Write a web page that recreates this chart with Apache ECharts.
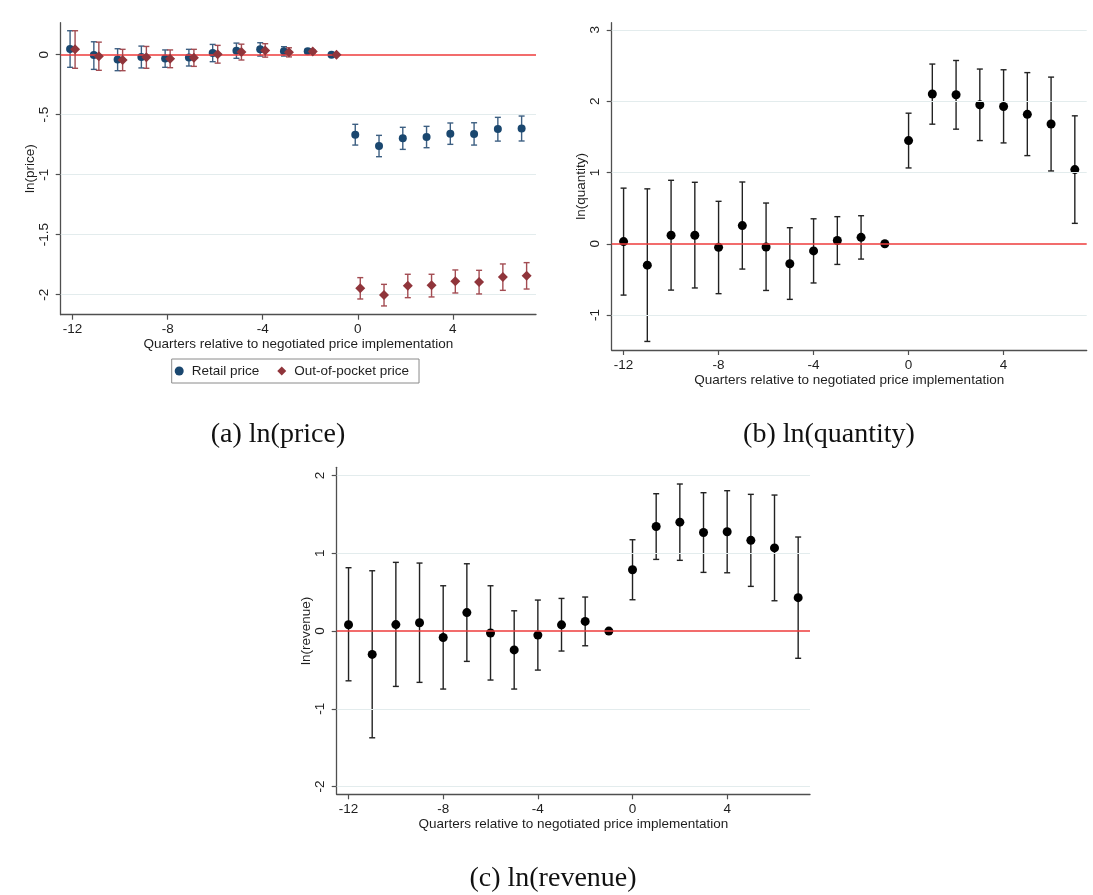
<!DOCTYPE html>
<html>
<head>
<meta charset="utf-8">
<script src="https://cdn.jsdelivr.net/npm/echarts@6/dist/echarts.min.js"></script>
<style>
  html, body { margin: 0; padding: 0; background: #ffffff; }
  #main { width: 1093px; height: 895px; }
</style>
</head>
<body>
<div id="main"></div>
<script>
// Event-study coefficients by quarter relative to the negotiated price (quarter -1 is the reference)
const quarters = [-12, -11, -10, -9, -8, -7, -6, -5, -4, -3, -2, -1, 0, 1, 2, 3, 4, 5, 6, 7];

// (a) ln(price): retail price
const retailEst = [0.047, -0.003, -0.040, -0.018, -0.032, -0.024, 0.014, 0.033, 0.045, 0.028, 0.030, 0,
                   -0.667, -0.761, -0.697, -0.686, -0.658, -0.660, -0.620, -0.615];
const retailLo  = [-0.105, -0.122, -0.133, -0.110, -0.105, -0.094, -0.058, -0.030, -0.011, -0.011, 0.012, null,
                   -0.753, -0.850, -0.789, -0.775, -0.747, -0.753, -0.720, -0.719];
const retailHi  = [0.200, 0.108, 0.050, 0.072, 0.040, 0.045, 0.086, 0.097, 0.100, 0.067, 0.048, null,
                   -0.580, -0.672, -0.605, -0.597, -0.569, -0.567, -0.522, -0.511];

// (a) ln(price): out-of-pocket price
const oopEst = [0.045, -0.012, -0.044, -0.022, -0.034, -0.026, 0.004, 0.022, 0.036, 0.020, 0.026, 0,
                -1.947, -2.003, -1.925, -1.922, -1.889, -1.894, -1.853, -1.842];
const oopLo  = [-0.113, -0.130, -0.133, -0.113, -0.108, -0.097, -0.070, -0.044, -0.020, -0.018, 0.012, null,
                -2.036, -2.094, -2.025, -2.019, -1.986, -1.994, -1.964, -1.953];
const oopHi  = [0.200, 0.105, 0.045, 0.069, 0.040, 0.045, 0.078, 0.088, 0.092, 0.058, 0.040, null,
                -1.858, -1.914, -1.830, -1.830, -1.794, -1.797, -1.744, -1.733];

// (b) ln(quantity)
const qtyEst = [0.030, -0.300, 0.120, 0.120, -0.050, 0.255, -0.045, -0.280, -0.100, 0.045, 0.090, 0,
                1.447, 2.100, 2.090, 1.950, 1.925, 1.815, 1.680, 1.040];
const qtyLo  = [-0.720, -1.370, -0.650, -0.620, -0.700, -0.355, -0.655, -0.780, -0.550, -0.290, -0.215, null,
                1.063, 1.677, 1.607, 1.447, 1.414, 1.236, 1.021, 0.286];
const qtyHi  = [0.780, 0.770, 0.890, 0.862, 0.595, 0.866, 0.571, 0.225, 0.350, 0.380, 0.393, null,
                1.831, 2.520, 2.570, 2.450, 2.440, 2.400, 2.337, 1.794];

// (c) ln(revenue)
const revEst = [0.081, -0.300, 0.083, 0.107, -0.082, 0.238, -0.025, -0.242, -0.052, 0.080, 0.124, 0,
                0.789, 1.345, 1.401, 1.268, 1.278, 1.167, 1.070, 0.430];
const revLo  = [-0.640, -1.373, -0.712, -0.660, -0.746, -0.390, -0.630, -0.746, -0.502, -0.257, -0.189, null,
                0.403, 0.922, 0.910, 0.755, 0.750, 0.575, 0.390, -0.350];
const revHi  = [0.815, 0.776, 0.884, 0.875, 0.583, 0.866, 0.583, 0.261, 0.399, 0.420, 0.438, null,
                1.175, 1.767, 1.892, 1.780, 1.806, 1.759, 1.750, 1.210];

// Tick values and their printed labels
const xTicks = [-12, -8, -4, 0, 4];
const priceTicks = [0, -0.5, -1, -1.5, -2];
const priceTickLabels = ['0', '-.5', '-1', '-1.5', '-2'];
const qtyTicks = [3, 2, 1, 0, -1];
const qtyTickLabels = ['3', '2', '1', '0', '-1'];
const revTicks = [2, 1, 0, -1, -2];
const revTickLabels = ['2', '1', '0', '-1', '-2'];

const xTitle = 'Quarters relative to negotiated price implementation';
const captions = ['(a) ln(price)', '(b) ln(quantity)', '(c) ln(revenue)'];
const legendNames = ['Retail price', 'Out-of-pocket price'];

// ---------------------------------------------------------------------------
const SANS = '"Liberation Sans", Arial, Helvetica, sans-serif';
const SERIF = '"Liberation Serif", "Times New Roman", serif';
const AXIS_COLOR = '#4f4f4f';
const TEXT_COLOR = '#1e1e1e';
const GRID_COLOR = '#e3eced';
const ZERO_COLOR = '#ee3b3b';
const NAVY = '#1a476f';
const MAROON = '#90353b';

const points = (est) => quarters.map((q, i) => [q, est[i]]);
const intervals = (lo, hi) => quarters
  .map((q, i) => [q, lo[i], hi[i]])
  .filter(d => d[1] !== null && d[2] !== null);

function xAxisFor(gridIndex) {
  return {
    gridIndex, type: 'value', min: -12.5, max: 7.5,
    axisLine: { show: true, onZero: false, lineStyle: { color: AXIS_COLOR, width: 1.3 } },
    axisTick: { show: true, length: 5, customValues: xTicks, lineStyle: { color: AXIS_COLOR, width: 1.2 } },
    axisLabel: { customValues: xTicks, margin: 8, fontSize: 13.5, color: TEXT_COLOR, fontFamily: SANS },
    splitLine: { show: false },
    name: xTitle, nameLocation: 'middle', nameGap: 23,
    nameTextStyle: { fontSize: 13.5, color: TEXT_COLOR, fontFamily: SANS }
  };
}

function yAxisFor(gridIndex, min, max, ticks, labels, title) {
  return {
    gridIndex, type: 'value', min, max,
    axisLine: { show: true, onZero: false, lineStyle: { color: AXIS_COLOR, width: 1.3 } },
    axisTick: { show: true, length: 5, customValues: ticks, lineStyle: { color: AXIS_COLOR, width: 1.2 } },
    axisLabel: {
      customValues: ticks, rotate: 90, margin: 9, fontSize: 13.5, color: TEXT_COLOR, fontFamily: SANS,
      formatter: (v) => {
        const k = ticks.findIndex(t => Math.abs(t - v) < 1e-9);
        return k >= 0 ? labels[k] : '';
      }
    },
    splitLine: { show: false },
    name: title, nameLocation: 'middle', nameGap: 23, nameRotate: 90,
    nameTextStyle: { fontSize: 13.5, color: TEXT_COLOR, fontFamily: SANS }
  };
}

// Horizontal grid lines plus the red reference line at zero
function backgroundSeries(axisIndex, ticks) {
  return [{
    type: 'line', xAxisIndex: axisIndex, yAxisIndex: axisIndex, data: [], z: 1, silent: true,
    markLine: {
      silent: true, symbol: 'none', animation: false, label: { show: false },
      lineStyle: { color: GRID_COLOR, width: 1.1, type: 'solid' },
      data: ticks.filter(t => t !== 0).map(t => ({ yAxis: t }))
    }
  }, {
    type: 'line', xAxisIndex: axisIndex, yAxisIndex: axisIndex, data: [], z: 2, silent: true,
    markLine: {
      silent: true, symbol: 'none', animation: false, label: { show: false },
      lineStyle: { color: ZERO_COLOR, width: 1.6, type: 'solid' },
      data: [{ yAxis: 0 }]
    }
  }];
}

// Capped vertical confidence interval, optionally nudged sideways by dx pixels
function errorBars(axisIndex, data, color, dx, z) {
  return {
    type: 'custom', xAxisIndex: axisIndex, yAxisIndex: axisIndex, z, silent: true,
    encode: { x: 0, y: [1, 2] },
    data,
    renderItem: (params, api) => {
      const q = api.value(0);
      const pLo = api.coord([q, api.value(1)]);
      const pHi = api.coord([q, api.value(2)]);
      const cx = pLo[0] + dx;
      const hw = 3;
      const style = { stroke: color, lineWidth: 1.4 };
      return {
        type: 'group',
        children: [
          { type: 'line', shape: { x1: cx, y1: pHi[1], x2: cx, y2: pLo[1] }, style },
          { type: 'line', shape: { x1: cx - hw, y1: pHi[1], x2: cx + hw, y2: pHi[1] }, style },
          { type: 'line', shape: { x1: cx - hw, y1: pLo[1], x2: cx + hw, y2: pLo[1] }, style }
        ]
      };
    }
  };
}

function markers(axisIndex, name, data, symbol, size, color, dx, z) {
  return {
    type: 'scatter', name, xAxisIndex: axisIndex, yAxisIndex: axisIndex, z,
    data, symbol, symbolSize: size, symbolOffset: [dx, 0],
    itemStyle: { color, opacity: 1 }, silent: true
  };
}

const captionStyle = (text) => ({
  text, textAlign: 'center', textVerticalAlign: 'middle', align: 'center', verticalAlign: 'middle',
  fontFamily: SERIF, fontSize: 28, fill: '#111'
});

const option = {
  animation: false,
  backgroundColor: '#ffffff',
  grid: [
    { left: 60.7, right: 557, top: 22.7, bottom: 580.3 },
    { left: 611.7, right: 6.3, top: 22.7, bottom: 545 },
    { left: 336.7, right: 283, top: 467.3, bottom: 100.7 }
  ],
  xAxis: [xAxisFor(0), xAxisFor(1), xAxisFor(2)],
  yAxis: [
    yAxisFor(0, -2.167, 0.267, priceTicks, priceTickLabels, 'ln(price)'),
    yAxisFor(1, -1.49, 3.1, qtyTicks, qtyTickLabels, 'ln(quantity)'),
    yAxisFor(2, -2.1, 2.107, revTicks, revTickLabels, 'ln(revenue)')
  ],
  legend: {
    data: [{ name: legendNames[0], icon: 'circle' }, { name: legendNames[1], icon: 'diamond' }],
    left: 171.7, top: 359, orient: 'horizontal',
    itemWidth: 9, itemHeight: 9, itemGap: 18,
    padding: [5, 10, 5, 3],
    borderColor: '#8a8a8a', borderWidth: 1,
    textStyle: { fontSize: 13.5, color: TEXT_COLOR, fontFamily: SANS, padding: [0, 0, 0, 3] },
    selectedMode: false
  },
  graphic: [
    { type: 'text', x: 278, y: 435, style: captionStyle(captions[0]) },
    { type: 'text', x: 829, y: 435, style: captionStyle(captions[1]) },
    { type: 'text', x: 553, y: 879, style: captionStyle(captions[2]) }
  ],
  series: [
    // (a) ln(price)
    ...backgroundSeries(0, priceTicks),
    errorBars(0, intervals(retailLo, retailHi), '#3d5f82', -2.5, 3),
    markers(0, legendNames[0], points(retailEst), 'circle', 8, NAVY, -2.5, 4),
    errorBars(0, intervals(oopLo, oopHi), '#a34c52', 2.5, 5),
    markers(0, legendNames[1], points(oopEst), 'diamond', 10, MAROON, 2.5, 6),
    // (b) ln(quantity)
    ...backgroundSeries(1, qtyTicks),
    errorBars(1, intervals(qtyLo, qtyHi), '#222222', 0, 3),
    markers(1, 'ln(quantity)', points(qtyEst), 'circle', 9, '#000000', 0, 4),
    // (c) ln(revenue)
    ...backgroundSeries(2, revTicks),
    errorBars(2, intervals(revLo, revHi), '#222222', 0, 3),
    markers(2, 'ln(revenue)', points(revEst), 'circle', 9, '#000000', 0, 4)
  ]
};

const chart = echarts.init(document.getElementById('main'), null, { renderer: 'canvas' });
chart.setOption(option);
</script>
</body>
</html>
